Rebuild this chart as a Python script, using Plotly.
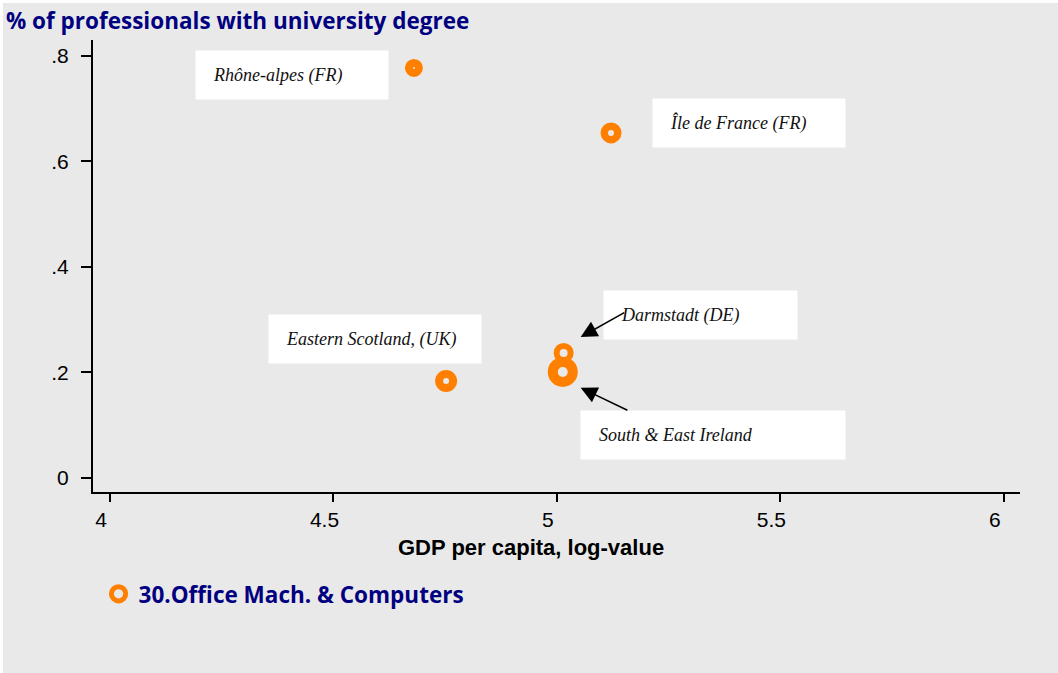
import plotly.graph_objects as go

NAVY = "#000080"
ORANGE = "#ff8000"
GREY_BG = "#e9e9e9"

regions = ["Rhône-alpes (FR)", "Île de France (FR)", "Eastern Scotland, (UK)",
           "Darmstadt (DE)", "South & East Ireland"]
gdp_log = [4.680, 5.121, 4.752, 5.015, 5.013]
pct_degree = [0.777, 0.654, 0.184, 0.237, 0.201]
ring_size = [10, 13.5, 14, 14, 20]
ring_width = [8, 7.5, 8, 6, 10]

x_ticks = [4, 4.5, 5, 5.5, 6]
x_ticklabels = ["4", "4.5", "5", "5.5", "6"]
y_ticks = [0, 0.2, 0.4, 0.6, 0.8]
y_ticklabels = ["0", ".2", ".4", ".6", ".8"]

series_name = "30.Office Mach. & Computers"

fig = go.Figure()
fig.add_trace(go.Scatter(
    x=gdp_log, y=pct_degree, mode="markers", name=series_name,
    marker=dict(symbol="circle-open", color=ORANGE, size=ring_size, opacity=1,
                line=dict(color=ORANGE, width=ring_width)),
    hovertext=regions, showlegend=True,
))

LABEL_FONT = dict(family="Liberation Serif, Times New Roman, serif", size=18, color="#111111")
PAD = "&nbsp;" * 4


def label_box(x, y, text, w, h=48):
    fig.add_annotation(x=x, y=y, xref="x", yref="y", text="<i>" + PAD + text + "</i>",
                       showarrow=False, xanchor="left", yanchor="middle",
                       align="left", width=w, height=h, bgcolor="white",
                       borderpad=0, font=LABEL_FONT, valign="middle")


# boxes (left edge, vertical centre, in data units)
label_box(4.190, 0.764, regions[0], 192)
label_box(5.212, 0.673, regions[1], 192)
label_box(4.353, 0.2635, regions[2], 212)
label_box(5.104, 0.309, regions[3], 193)
label_box(5.051, 0.0815, regions[4], 264)

# arrows
fig.add_annotation(x=5.053, y=0.267, ax=5.154, ay=0.315, xref="x", yref="y",
                   axref="x", ayref="y", showarrow=True, arrowhead=2,
                   arrowsize=2.2, arrowwidth=1.5, arrowcolor="black", text="")
fig.add_annotation(x=5.053, y=0.171, ax=5.161, ay=0.127, xref="x", yref="y",
                   axref="x", ayref="y", showarrow=True, arrowhead=2,
                   arrowsize=2.2, arrowwidth=1.5, arrowcolor="black", text="")

# title at top-left
fig.add_annotation(x=-0.0955, y=1.0, xref="paper", yref="paper", yanchor="bottom",
                   xanchor="left", showarrow=False, yshift=2,
                   text="<b>% of professionals with university degree</b>",
                   font=dict(family="Open Sans, sans-serif", size=22.5, color=NAVY))

# x axis title (sits a little left of the axis centre)
fig.add_annotation(x=0.4725, y=-0.1217, xref="paper", yref="paper", yanchor="middle",
                   xanchor="center", showarrow=False,
                   text="<b>GDP per capita, log-value</b>",
                   font=dict(family="Liberation Sans, Arial, sans-serif", size=22, color="black"))

# grey page panel with thin white frame top/left
fig.add_shape(type="rect", xref="paper", yref="paper", x0=-0.0971, x1=1.05,
              y0=-0.41, y1=1.082, fillcolor=GREY_BG, line=dict(width=0), layer="below")

AXIS_FONT = dict(family="Liberation Sans, Arial, sans-serif", size=21, color="black")
fig.update_layout(
    width=1058, height=673,
    paper_bgcolor="white", plot_bgcolor=GREY_BG,
    margin=dict(l=93, r=38, t=40, b=181),
    showlegend=True,
    legend=dict(x=0.006, y=-0.226, xanchor="left", yanchor="middle",
                bgcolor="rgba(0,0,0,0)",
                font=dict(family="Open Sans, sans-serif", size=22.5, color=NAVY,
                          weight="bold")),
    xaxis=dict(range=[3.962, 6.036], tickvals=x_ticks, ticktext=x_ticklabels,
               showgrid=False, zeroline=False, showline=True, linecolor="black",
               linewidth=2, ticks="outside", ticklen=8, tickcolor="black",
               tickwidth=1.5, tickfont=AXIS_FONT, ticklabelshift=-9),
    yaxis=dict(range=[-0.0265, 0.83], tickvals=y_ticks, ticktext=y_ticklabels,
               showgrid=False, zeroline=False, showline=True, linecolor="black",
               linewidth=2, ticks="outside", ticklen=10, tickcolor="black",
               tickwidth=1.5, tickfont=AXIS_FONT, ticklabelstandoff=8),
)

fig.write_html("out.html", config={"displayModeBar": False},
               post_script="document.body.style.margin='0';")
